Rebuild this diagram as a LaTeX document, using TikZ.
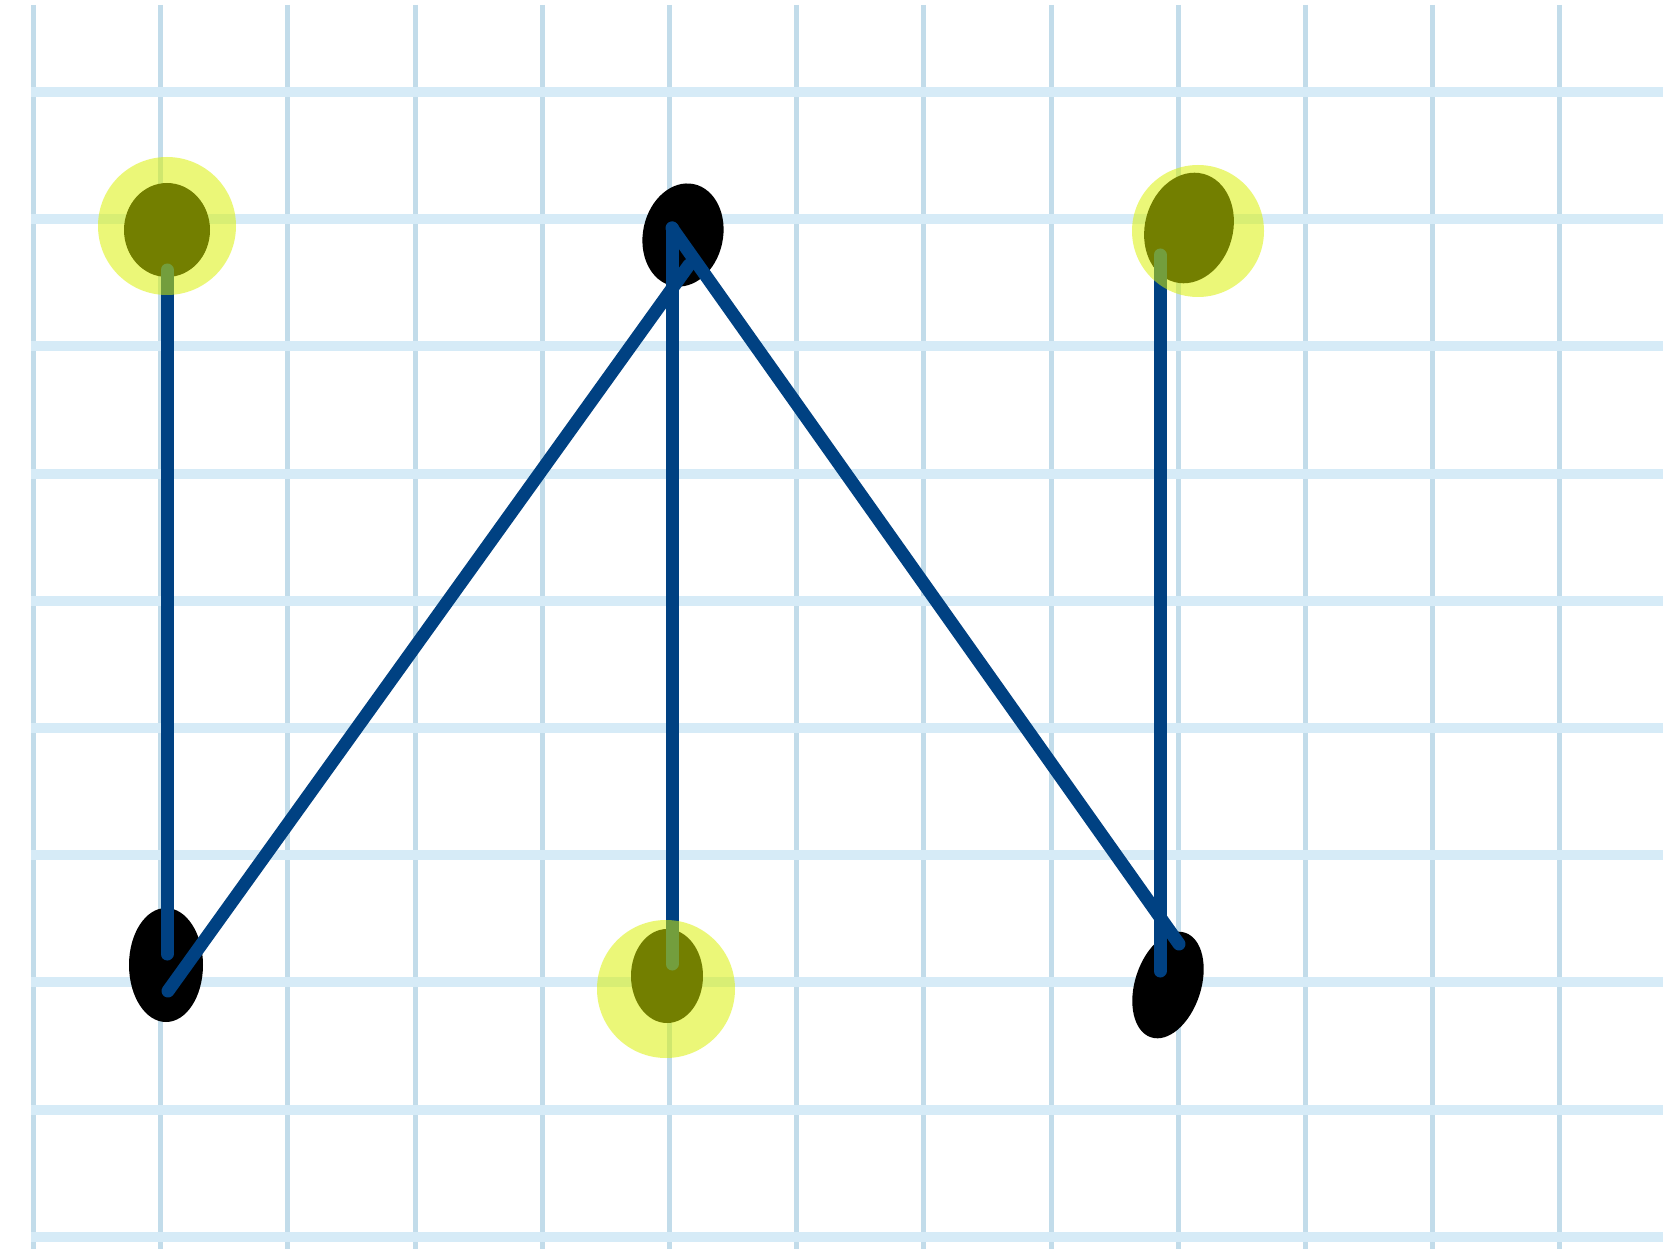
\documentclass[tikz,border=0pt]{standalone}
\usetikzlibrary{shapes.geometric}
\definecolor{vgrid}{RGB}{194,220,234}
\definecolor{hgrid}{RGB}{214,235,247}
\definecolor{edgeblue}{RGB}{0,65,130}
\definecolor{hilite}{RGB}{219,241,0}
\tikzset{
  vline/.style={draw=vgrid,line width=5pt},
  hline/.style={draw=hgrid,line width=10pt},
  blob/.style={ellipse,fill=black,draw=none,inner sep=0pt},
  edge/.style={draw=edgeblue,line width=13pt,line cap=round},
  glow/.style={circle,fill=hilite,fill opacity=0.53,draw=none,inner sep=0pt}
}
\begin{document}
\begin{tikzpicture}[x=1pt,y=-1pt]
\useasboundingbox[fill=white] (0,0) rectangle (1663,1249);
% grid
\foreach \i in {0,...,12} {
  \draw[vline] ({33.5+127.2*\i},5) -- ({33.5+127.2*\i},1249);
}
\foreach \j in {0,...,9} {
  \draw[hline] (31,{92+127.2*\j}) -- (1663,{92+127.2*\j});
}
% dots
\node[blob,minimum width=86pt,minimum height=94pt] (tl) at (167,230) {};
\node[blob,minimum width=80pt,minimum height=104pt,rotate=-12] (tc) at (683,235) {};
\node[blob,minimum width=88pt,minimum height=112pt,rotate=-15] (tr) at (1189,228) {};
\node[blob,minimum width=74pt,minimum height=114pt] (bl) at (166,965) {};
\node[blob,minimum width=72pt,minimum height=94pt] (bc) at (667,976) {};
\node[blob,minimum width=66pt,minimum height=110pt,rotate=-18] (br) at (1168,985) {};
% connector ends
\coordinate (tlE) at (167,270);
\coordinate (blA) at (167,954);
\coordinate (blB) at (168,991);
\coordinate (tcA) at (672,228);
\coordinate (tcB) at (689,265);
\coordinate (bcE) at (672,964);
\coordinate (brA) at (1179,944);
\coordinate (trE) at (1160,255);
\coordinate (brB) at (1160,971);
% connectors
\draw[edge] (tlE) -- (blA);
\draw[edge] (blB) -- (tcB);
\draw[edge] (tcA) -- (bcE);
\draw[edge] (tcA) -- (brA);
\draw[edge] (trE) -- (brB);
% highlights
\node[glow,minimum size=138pt] (h1) at (167,226) {};
\node[glow,minimum size=132pt] (h2) at (1198,231) {};
\node[glow,minimum size=138pt] (h3) at (666,989) {};
\end{tikzpicture}
\end{document}
